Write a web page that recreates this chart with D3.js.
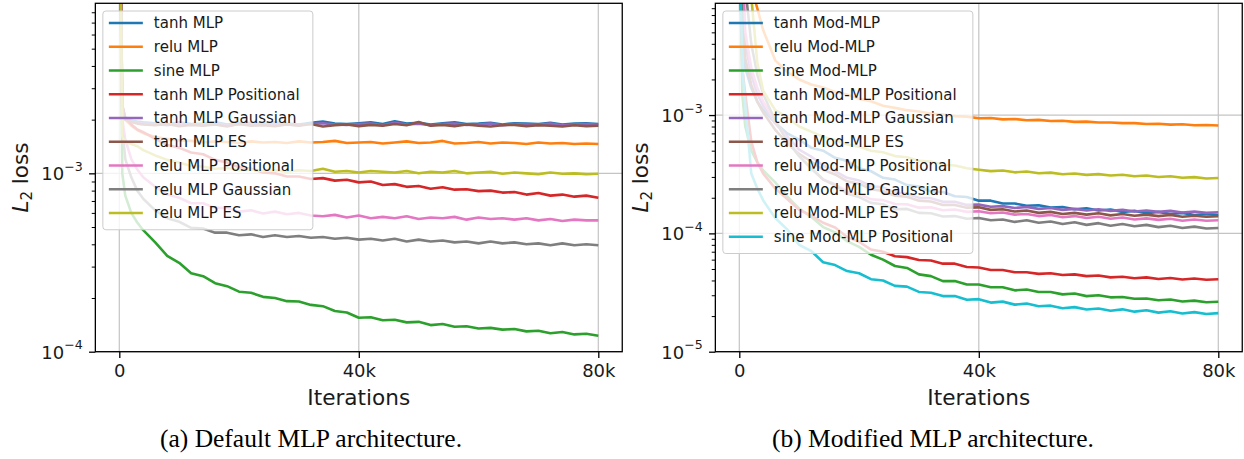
<!DOCTYPE html>
<html><head><meta charset="utf-8">
<script src="https://cdn.jsdelivr.net/npm/d3@7"></script>
<style>body{margin:0;background:#fff}</style>
</head><body>
<svg id="c" width="1244" height="459" xmlns="http://www.w3.org/2000/svg"></svg>
<script>
// iterations, in thousands
const iterK = [0,0.5,1,2,3,4,
  6,8,10,12,14,16,18,20,22,24,
  26,28,30,32,34,36,38,40,42,44,
  46,48,50,52,54,56,58,60,62,64,
  66,68,70,72,74,76,78,80];
const xTickValues = [0,40,80];
const xTickLabels = ["0","40k","80k"];
const colors = ["#1f77b4","#ff7f0e","#2ca02c","#d62728","#9467bd","#8c564b","#e377c2","#7f7f7f","#bcbd22","#17becf"];

// ---- (a) Default MLP : values in units of 1e-4
const leftUnit = 1e-4;
const leftNames = ["tanh MLP","relu MLP","sine MLP","tanh MLP Positional","tanh MLP Gaussian","tanh MLP ES","relu MLP Positional","relu MLP Gaussian","relu MLP ES"];
const leftTanh = [600,24,20.5,19.8,19.5,19.3,
  19.1,18.8,19.3,18.9,19.0,19.4,18.8,19.1,19.2,18.9,
  19.3,19.0,18.8,19.2,19.5,19.0,18.9,19.1,19.3,18.9,
  19.6,19.0,19.2,18.8,19.1,19.3,18.9,19.0,19.2,18.8,
  19.1,19.0,18.9,19.2,18.8,19.0,19.1,18.9];
const leftRelu = [600,22,20.0,18.5,17.5,16.8,
  16.0,15.6,15.3,15.2,14.9,15.1,15.0,14.8,15.1,14.9,
  15.0,14.8,15.1,14.9,15.0,15.2,14.8,14.9,15.0,14.7,
  14.9,15.1,14.8,14.9,15.2,14.7,14.8,15.0,14.7,14.9,
  14.8,14.6,14.9,14.7,14.8,14.6,14.7,14.6];
const leftSine = [600,10,7.5,6.0,5.3,4.8,
  4.1,3.45,3.15,2.75,2.65,2.42,2.33,2.17,2.14,2.03,
  2.0,1.92,1.91,1.83,1.80,1.69,1.66,1.55,1.56,1.50,
  1.51,1.46,1.47,1.41,1.43,1.38,1.39,1.35,1.36,1.33,
  1.34,1.30,1.31,1.27,1.29,1.25,1.26,1.23];
const leftTanhPos = [600,24,20.5,18.8,17.6,17.0,
  15.6,14.4,13.9,13.1,12.8,11.9,11.5,10.8,10.6,10.1,
  10.0,9.6,9.6,9.3,9.4,9.1,9.2,8.9,9.0,8.6,
  8.7,8.4,8.5,8.2,8.35,8.1,8.15,7.95,8.0,7.8,
  7.85,7.6,7.75,7.5,7.6,7.4,7.5,7.3];
const leftTanhGauss = [600,23,20.0,19.5,19.2,19.0,
  18.9,18.6,19.0,18.7,18.8,19.1,18.6,18.8,19.0,18.7,
  19.0,18.8,18.6,18.9,19.1,18.8,18.7,18.9,19.0,18.6,
  19.2,18.8,19.0,18.6,18.9,19.0,18.7,18.8,19.0,18.6,
  18.9,18.8,18.7,19.0,18.6,18.8,18.9,18.7];
const leftTanhES = [600,23,20.0,19.4,19.0,18.8,
  18.6,18.9,18.4,18.7,18.5,18.8,18.3,18.9,18.5,18.6,
  18.4,18.8,18.5,18.9,18.3,18.6,18.8,18.4,18.7,18.5,
  18.9,18.6,19.4,18.5,18.7,18.4,18.8,18.5,18.3,18.6,
  18.7,18.4,18.6,18.5,18.3,18.6,18.4,18.5];
const leftReluPos = [600,20,15.5,12.0,10.5,9.5,
  8.4,7.6,7.3,6.8,6.8,6.4,6.4,6.1,6.2,5.95,
  6.1,5.9,6.0,5.8,5.75,5.85,5.65,5.8,5.6,5.7,
  5.6,5.75,5.55,5.65,5.6,5.7,5.5,5.65,5.55,5.6,
  5.5,5.6,5.45,5.55,5.4,5.5,5.45,5.45];
const leftReluGauss = [600,18,12.0,9.5,8.0,7.2,
  6.2,5.6,5.35,4.95,4.9,4.65,4.65,4.5,4.55,4.4,
  4.5,4.4,4.45,4.35,4.4,4.3,4.35,4.25,4.3,4.2,
  4.3,4.15,4.25,4.15,4.2,4.1,4.15,4.05,4.15,4.05,
  4.1,4.0,4.05,3.95,4.05,3.95,4.0,3.95];
const leftReluES = [600,16,15.0,14.6,14.2,13.5,
  12.6,11.9,11.5,11.0,10.9,10.6,10.7,10.4,10.5,10.3,
  10.4,10.2,10.4,10.3,10.6,10.2,10.3,10.1,10.3,10.2,
  10.1,10.3,10.0,10.2,10.1,10.3,10.0,10.1,10.2,9.95,
  10.1,10.0,9.9,10.1,9.95,10.0,9.9,9.95];

// ---- (b) Modified MLP : values in units of 1e-5
const rightUnit = 1e-5;
const rightNames = ["tanh Mod-MLP","relu Mod-MLP","sine Mod-MLP","tanh Mod-MLP Positional","tanh Mod-MLP Gaussian","tanh Mod-MLP ES","relu Mod-MLP Positional","relu Mod-MLP Gaussian","relu Mod-MLP ES","sine Mod-MLP Positional"];
const rightTanh = [5000,900,250,170,130,110,
  86,70,62,53,50,43.5,41,35.5,33.5,29.5,
  28.5,25.6,24.9,22.6,22.4,20.6,20.3,18.9,18.9,17.9,
  17.9,17.1,17.3,16.5,16.7,16.0,16.3,15.6,15.9,15.2,
  15.5,14.8,15.2,14.6,14.9,14.3,14.6,14.3];
const rightRelu = [5000,3000,2000,1200,800,520,
  290,232,200,181,171,157,149,137,131,120,
  115,110,107,103,101,98,97,94,94.5,92,
  92.5,90.5,91,89,89.5,87.5,88,86.5,86.5,85.5,
  85.5,84,84.5,83,83.5,82,82.5,81.5];
const rightSine = [5000,150,80,50,40,34,
  27,20.5,16.2,13.8,11.3,10.2,8.6,7.7,6.6,6.0,
  5.3,5.1,4.5,4.35,3.95,3.95,3.7,3.7,3.5,3.5,
  3.3,3.35,3.2,3.2,3.05,3.1,2.95,3.0,2.88,2.9,
  2.8,2.82,2.72,2.76,2.66,2.7,2.62,2.64];
const rightTanhPos = [5000,250,150,60,40,32,
  24,19.5,15.8,14.2,12.3,11.2,9.3,8.5,7.3,7.0,
  6.4,6.3,5.95,5.9,5.55,5.55,5.2,5.15,4.9,4.9,
  4.7,4.7,4.55,4.6,4.45,4.5,4.35,4.4,4.25,4.3,
  4.18,4.25,4.12,4.2,4.08,4.15,4.05,4.1];
const rightTanhGauss = [5000,1500,400,220,150,120,
  85,66,51,44.5,37.5,33.5,29.5,28,25,24.5,
  22.2,21.6,20.0,19.8,18.5,18.5,17.4,17.5,16.8,17.0,
  16.4,16.7,16.1,16.4,15.8,16.1,15.6,16.0,15.5,15.8,
  15.3,15.6,15.2,15.5,15.0,15.3,14.9,15.1];
const rightTanhES = [5000,1000,300,180,130,105,
  75,58,47,40.5,34.5,31.5,27.5,26.3,23.6,22.8,
  20.8,20.4,18.9,18.6,17.4,17.4,16.5,16.6,15.8,16.0,
  15.3,15.6,14.9,15.2,14.6,14.9,14.4,14.8,14.2,14.6,
  14.1,14.4,14.0,14.3,13.8,14.1,13.8,14.0];
const rightReluPos = [5000,2000,500,250,170,130,
  90,62,45,35.5,28.5,26,22.6,21.6,19.4,19.1,
  17.7,17.6,16.5,16.6,15.7,15.9,15.2,15.4,14.8,15.0,
  14.4,14.6,14.0,14.3,13.7,14.0,13.5,13.8,13.3,13.6,
  13.1,13.4,13.0,13.3,12.8,13.1,12.8,12.9];
const rightReluGauss = [5000,3000,1200,400,220,150,
  90,60,45,35.5,28.5,25.5,21.6,20.3,18.1,17.6,
  16.0,16.1,14.9,14.8,13.9,14.0,13.3,13.5,12.9,13.1,
  12.5,12.9,12.3,12.6,12.0,12.4,11.8,12.2,11.6,12.0,
  11.5,11.8,11.3,11.6,11.1,11.4,11.0,11.1];
const rightReluES = [5000,4000,2500,1000,280,160,
  110,96,80,72.5,65.5,61.5,56.5,54,50,48.5,
  45,44,41,40.5,38,37.5,35.5,34.5,33.6,34.0,
  32.8,33.3,32.2,32.6,31.6,32.1,31.2,31.7,30.8,31.3,
  30.4,30.8,30.0,30.4,29.5,29.9,29.1,29.4];
const rightSinePos = [5000,250,120,32,24,19,
  13.5,10.8,8.0,7.1,5.7,5.4,4.8,4.6,4.1,4.0,
  3.6,3.55,3.2,3.15,2.95,2.95,2.75,2.78,2.6,2.65,
  2.5,2.55,2.42,2.45,2.33,2.38,2.27,2.32,2.22,2.28,
  2.18,2.24,2.14,2.2,2.1,2.16,2.08,2.12];

const leftSeries = [leftTanh,leftRelu,leftSine,leftTanhPos,leftTanhGauss,leftTanhES,leftReluPos,leftReluGauss,leftReluES];
const rightSeries = [rightTanh,rightRelu,rightSine,rightTanhPos,rightTanhGauss,rightTanhES,rightReluPos,rightReluGauss,rightReluES,rightSinePos];

const svg = d3.select("#c");
const FONT = "DejaVu Sans, sans-serif";

function drawPanel(cfg, id) {
  const top = 3.3, bottom = 351.7;
  const x = d3.scaleLinear().domain([-4, 84]).range([cfg.x0, cfg.x1]);
  const y = d3.scaleLog().domain(cfg.yDomain).range([bottom, top]);
  const g = svg.append("g");

  svg.append("clipPath").attr("id", "clip" + id).append("rect")
    .attr("x", cfg.x0).attr("y", top).attr("width", cfg.x1 - cfg.x0).attr("height", bottom - top);

  // grid
  const grid = g.append("g").attr("stroke", "#c4c4c4").attr("stroke-width", 1.2);
  xTickValues.forEach(v => grid.append("line").attr("x1", x(v)).attr("x2", x(v)).attr("y1", top).attr("y2", bottom));
  cfg.yMajor.forEach(v => grid.append("line").attr("x1", cfg.x0).attr("x2", cfg.x1).attr("y1", y(v)).attr("y2", y(v)));

  // lines
  const line = d3.line().x((d, i) => x(iterK[i])).y(d => y(d * cfg.unit));
  const lg = g.append("g").attr("clip-path", `url(#clip${id})`);
  cfg.series.forEach((s, i) => {
    lg.append("path").attr("d", line(s)).attr("fill", "none")
      .attr("stroke", colors[i]).attr("stroke-width", 2.6).attr("stroke-linejoin", "round");
  });

  // y axis major
  const yAx = g.append("g").attr("transform", `translate(${cfg.x0},0)`)
    .call(d3.axisLeft(y).tickValues(cfg.yMajor).tickSize(6.3).tickFormat(""));
  yAx.select(".domain").remove();
  yAx.selectAll(".tick line").attr("stroke", "#000").attr("stroke-width", 1.3);
  yAx.selectAll(".tick").each(function(d) {
    const t = d3.select(this).append("text").attr("x", -12.6).attr("y", 6.5)
      .attr("text-anchor", "end").attr("fill", "#1a1a1a").attr("font-family", FONT).attr("font-size", 18);
    t.append("tspan").text("10");
    t.append("tspan").attr("font-size", 12.6).attr("dy", -9.5).text("\u2212" + Math.abs(Math.round(Math.log10(d))));
  });
  // y minor
  const minor = [];
  const lo = Math.floor(Math.log10(cfg.yDomain[0])), hi = Math.ceil(Math.log10(cfg.yDomain[1]));
  for (let e = lo; e < hi; e++) for (let m = 2; m <= 9; m++) {
    const v = m * Math.pow(10, e);
    if (v > cfg.yDomain[0] && v < cfg.yDomain[1]) minor.push(v);
  }
  const yMin = g.append("g").attr("transform", `translate(${cfg.x0},0)`)
    .call(d3.axisLeft(y).tickValues(minor).tickSize(3.6).tickFormat(""));
  yMin.select(".domain").remove();
  yMin.selectAll(".tick line").attr("stroke", "#000").attr("stroke-width", 1.0);

  // x axis
  const xAx = g.append("g").attr("transform", `translate(0,${bottom})`)
    .call(d3.axisBottom(x).tickValues(xTickValues).tickSize(6.3).tickPadding(6)
      .tickFormat((d, i) => xTickLabels[i]));
  xAx.select(".domain").remove();
  xAx.selectAll(".tick line").attr("stroke", "#000").attr("stroke-width", 1.3);
  xAx.selectAll(".tick text").attr("fill", "#1a1a1a").attr("font-family", FONT).attr("font-size", 18);

  // spines
  g.append("rect").attr("x", cfg.x0).attr("y", top).attr("width", cfg.x1 - cfg.x0).attr("height", bottom - top)
    .attr("fill", "none").attr("stroke", "#000").attr("stroke-width", 1.3);

  // axis labels
  g.append("text").attr("x", (cfg.x0 + cfg.x1) / 2).attr("y", 405).attr("text-anchor", "middle")
    .attr("font-family", FONT).attr("font-size", 21.6).attr("fill", "#1a1a1a").text("Iterations");
  const yl = g.append("text").attr("transform", `translate(${cfg.labelX},177.5) rotate(-90)`)
    .attr("text-anchor", "middle").attr("font-family", FONT).attr("font-size", 21.6).attr("fill", "#1a1a1a");
  yl.append("tspan").attr("font-style", "italic").text("L");
  yl.append("tspan").attr("font-size", 15).attr("dy", 4).text("2");
  yl.append("tspan").attr("dy", -4).text(" loss");

  // legend
  const n = cfg.names.length, rowH = 23.75;
  const lx = cfg.x0 + 7.5, ly = 11;
  const leg = g.append("g");
  leg.append("rect").attr("x", lx).attr("y", ly).attr("width", cfg.legendW).attr("height", 12 + n * rowH - 7)
    .attr("rx", 3).attr("fill", "#fff").attr("fill-opacity", 0.8).attr("stroke", "#cccccc").attr("stroke-width", 1);
  cfg.names.forEach((name, i) => {
    const cy = 23 + i * rowH;
    leg.append("line").attr("x1", lx + 6).attr("x2", lx + 40).attr("y1", cy).attr("y2", cy)
      .attr("stroke", colors[i]).attr("stroke-width", 2.7);
    leg.append("text").attr("x", lx + 51).attr("y", cy + 5.3).attr("font-family", FONT).attr("font-size", 15)
      .attr("fill", "#1a1a1a").text(name);
  });

  // caption
  svg.append("text").attr("x", cfg.captionX).attr("y", 447).attr("text-anchor", "middle")
    .attr("font-family", "Liberation Serif, Times New Roman, serif").attr("font-size", 25.5).attr("fill", "#000")
    .text(cfg.caption);
}

drawPanel({x0: 95.35, x1: 622.25, yDomain: [1e-4, 8.98e-3], yMajor: [1e-4, 1e-3], unit: leftUnit,
  series: leftSeries, names: leftNames, labelX: 28, legendW: 210, captionX: 311,
  caption: "(a) Default MLP architecture."}, "a");
drawPanel({x0: 715.35, x1: 1242.25, yDomain: [1e-5, 8.8e-3], yMajor: [1e-5, 1e-4, 1e-3], unit: rightUnit,
  series: rightSeries, names: rightNames, labelX: 648, legendW: 250, captionX: 933,
  caption: "(b) Modified MLP architecture."}, "b");
</script>
</body></html>
